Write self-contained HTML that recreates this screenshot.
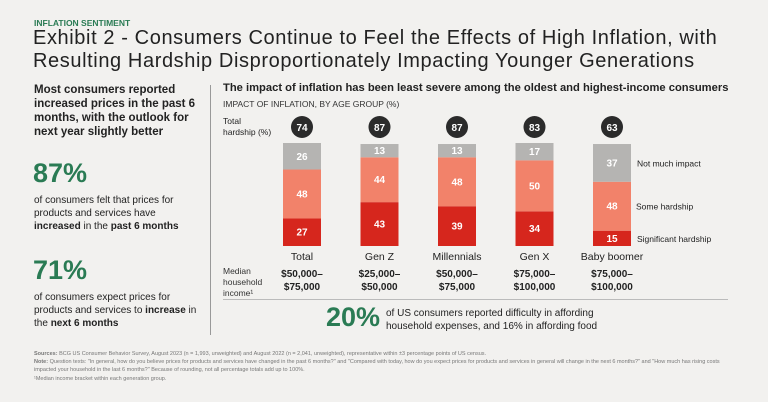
<!DOCTYPE html>
<html><head><meta charset="utf-8"><style>
body{margin:0;width:768px;height:402px;background:#f2f1ef;font-family:"Liberation Sans",sans-serif;color:#222;position:relative;overflow:hidden}
.a{position:absolute;margin:0}
.g{color:#2a7b54}
</style></head><body>
<div class="a g" style="left:34px;top:18px;font-size:8.5px;font-weight:bold">INFLATION SENTIMENT</div>
<div class="a" style="left:33px;top:27px;font-size:20px;letter-spacing:0.6px;line-height:23px;color:#222">Exhibit 2 - Consumers Continue to Feel the Effects of High Inflation, with<br>Resulting Hardship Disproportionately Impacting Younger Generations</div>
<div class="a" style="left:34px;top:83px;font-size:11.5px;font-weight:bold;line-height:14px;width:170px">Most consumers reported increased prices in the past 6 months, with the outlook for next year slightly better</div>
<div class="a g" style="left:33px;top:158px;font-size:27px;font-weight:bold">87%</div>
<div class="a" style="left:34px;top:194px;font-size:10px;line-height:13px;width:170px">of consumers felt that prices for products and services have <b>increased</b> in the <b>past 6 months</b></div>
<div class="a g" style="left:33px;top:255px;font-size:27px;font-weight:bold">71%</div>
<div class="a" style="left:34px;top:291px;font-size:10px;line-height:13px;width:170px">of consumers expect prices for products and services to <b>increase</b> in the <b>next 6 months</b></div>
<div class="a" style="left:210px;top:85px;width:1px;height:250px;background:#999"></div>
<div class="a" style="left:223px;top:82px;font-size:11.2px;font-weight:bold">The impact of inflation has been least severe among the oldest and highest-income consumers</div>
<div class="a" style="left:223px;top:99px;font-size:8.5px;color:#333">IMPACT OF INFLATION, BY AGE GROUP (%)</div>
<div class="a" style="left:223px;top:116px;font-size:8.5px;line-height:11px">Total<br>hardship (%)</div>
<div class="a" style="left:223px;top:266px;font-size:8.5px;line-height:11px;color:#333">Median<br>household<br>income¹</div>
<svg class="a" style="left:0;top:0" width="768" height="402" id="chart"></svg>
<div class="a" style="left:223px;top:299px;width:505px;height:1px;background:#bbb"></div>
<div class="a g" style="left:326px;top:302px;font-size:27px;font-weight:bold">20%</div>
<div class="a" style="left:386px;top:307px;font-size:10px;line-height:13px">of US consumers reported difficulty in affording<br>household expenses, and 16% in affording food</div>
<div class="a" style="left:34px;top:350px;font-size:5.5px;line-height:8.2px;color:#777;width:705px"><b>Sources:</b> BCG US Consumer Behavior Survey, August 2023 (n = 1,993, unweighted) and August 2022 (n = 2,041, unweighted), representative within ±3 percentage points of US census.<br><b>Note:</b> Question texts: "In general, how do you believe prices for products and services have changed in the past 6 months?" and "Compared with today, how do you expect prices for products and services in general will change in the next 6 months?" and "How much has rising costs impacted your household in the last 6 months?" Because of rounding, not all percentage totals add up to 100%.<br>¹Median income bracket within each generation group.</div>
<script>
const categories=["Total","Gen Z","Millennials","Gen X","Baby boomer"];
const significant=[27,43,39,34,15];
const some=[48,44,48,50,48];
const notMuch=[26,13,13,17,37];
const totals=[74,87,87,83,63];
const incomeLow=["$50,000–","$25,000–","$50,000–","$75,000–","$75,000–"];
const incomeHigh=["$75,000","$50,000","$75,000","$100,000","$100,000"];
const legend=["Not much impact","Some hardship","Significant hardship"];
const svg=document.getElementById('chart');const NS='http://www.w3.org/2000/svg';
const base=246,scale=103/101,bw=38;
const xc=i=>302+i*77.5;const y=v=>v*scale;
function mk(t,a,txt){const e=document.createElementNS(NS,t);for(const k in a)e.setAttribute(k,a[k]);if(txt!=null)e.textContent=txt;svg.appendChild(e);return e;}
const cols=["#d6261d","#f2826a","#b5b4b2"];
categories.forEach((c,i)=>{
 let cur=base;
 [significant[i],some[i],notMuch[i]].forEach((v,j)=>{
  const h=y(v);cur-=h;
  const r=mk('rect',{x:xc(i)-bw/2,y:cur,width:bw,height:h,fill:cols[j]});
  
  
  const t=mk('text',{x:xc(i),y:cur+h/2+3.5,'text-anchor':'middle','font-size':10,'font-weight':'bold',fill:'#fff','font-family':'Liberation Sans'},v);
  
  
 });
 const ci=mk('circle',{cx:xc(i),cy:127,r:11,fill:'#2b2b2b'});
 
 
 const ct=mk('text',{x:xc(i),y:131,'text-anchor':'middle','font-size':10,'font-weight':'bold',fill:'#fff','font-family':'Liberation Sans'},totals[i]);
 
 
 const cl=mk('text',{x:xc(i),y:260,'text-anchor':'middle','font-size':10.5,fill:'#222','font-family':'Liberation Sans'},c);
 
 
 [incomeLow[i],incomeHigh[i]].forEach((s,k)=>{const it=mk('text',{x:xc(i),y:277+k*13,'text-anchor':'middle','font-size':10,'font-weight':'bold',fill:'#222','font-family':'Liberation Sans'},s);
 
 });
});
const last=categories.length-1;
const ly=[base-y(significant[last]+some[last])-y(notMuch[last])/2,base-y(significant[last])-y(some[last])/2,base-y(significant[last])/2];
legend.forEach((l,k)=>{const t=mk('text',{x:[637,636,637][k],y:ly[k]+3.5,'font-size':8.5,fill:'#222','font-family':'Liberation Sans'},l);

});
</script>
</body></html>
